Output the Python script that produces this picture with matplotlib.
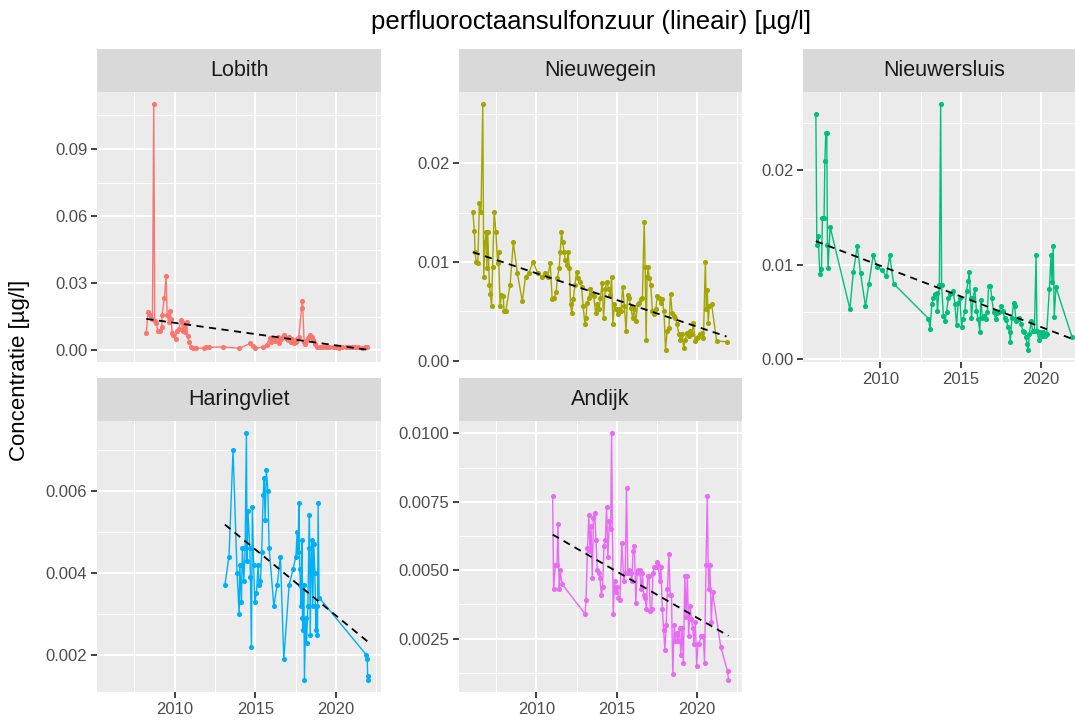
import numpy as np
import matplotlib
matplotlib.use("Agg")
import matplotlib.pyplot as plt
from matplotlib.ticker import FixedLocator, MultipleLocator

plt.rcParams['font.family'] = ['Liberation Sans', 'DejaVu Sans']

# ---------------- data (decimal year, concentration ug/l) ----------------
sites = ["Lobith", "Nieuwegein", "Nieuwersluis", "Haringvliet", "Andijk"]
colors = ["#F8766D", "#A3A500", "#00BF7D", "#00B0F6", "#E76BF3"]

lobith_points = [
    (2008.24, 0.0079), (2008.34, 0.0170), (2008.48, 0.0157), (2008.62, 0.0140),
    (2008.70, 0.1100), (2008.76, 0.0129), (2008.86, 0.0120), (2008.96, 0.0085),
    (2009.10, 0.0085), (2009.20, 0.0105), (2009.22, 0.0157), (2009.36, 0.0235),
    (2009.47, 0.0333), (2009.53, 0.0157), (2009.63, 0.0127), (2009.71, 0.0177),
    (2009.78, 0.0138), (2009.84, 0.0079), (2009.92, 0.0068), (2010.05, 0.0048),
    (2010.13, 0.0088), (2010.25, 0.0095), (2010.40, 0.0133), (2010.50, 0.0088),
    (2010.60, 0.0120), (2010.66, 0.0083), (2010.75, 0.0127), (2010.80, 0.0063),
    (2010.90, 0.0038), (2011.00, 0.0012), (2011.15, 0.0008), (2011.30, 0.0008),
    (2011.80, 0.0010), (2011.95, 0.0015), (2012.10, 0.0012), (2013.00, 0.0015),
    (2014.00, 0.0008), (2014.70, 0.0030), (2014.85, 0.0018), (2015.00, 0.0010),
    (2015.45, 0.0012), (2015.70, 0.0025), (2015.90, 0.0053), (2016.00, 0.0038),
    (2016.10, 0.0048), (2016.20, 0.0040), (2016.30, 0.0045), (2016.40, 0.0058),
    (2016.50, 0.0033), (2016.60, 0.0048), (2016.70, 0.0061), (2016.80, 0.0068),
    (2016.90, 0.0053), (2017.00, 0.0045), (2017.10, 0.0061), (2017.20, 0.0038),
    (2017.30, 0.0048), (2017.40, 0.0033), (2017.50, 0.0038), (2017.60, 0.0048),
    (2017.70, 0.0058), (2017.87, 0.0190), (2017.93, 0.0220), (2018.03, 0.0038),
    (2018.10, 0.0027), (2018.20, 0.0045), (2018.30, 0.0053), (2018.40, 0.0068),
    (2018.50, 0.0061), (2018.60, 0.0045), (2018.70, 0.0027), (2018.80, 0.0012),
    (2019.00, 0.0013), (2019.20, 0.0015), (2019.40, 0.0012), (2019.60, 0.0014),
    (2019.80, 0.0013), (2020.00, 0.0015), (2020.20, 0.0011), (2020.40, 0.0014),
    (2020.60, 0.0012), (2020.80, 0.0015), (2021.00, 0.0013), (2021.20, 0.0012),
    (2021.40, 0.0014), (2021.60, 0.0010), (2021.80, 0.0015), (2021.95, 0.0013),
]

nieuwegein_points = [
    (2006.04, 0.0151), (2006.14, 0.0131), (2006.18, 0.0110), (2006.25, 0.0100),
    (2006.35, 0.0099), (2006.45, 0.0160), (2006.55, 0.0151), (2006.66, 0.0260),
    (2006.72, 0.0085), (2006.80, 0.0120), (2006.86, 0.0130), (2006.92, 0.0094),
    (2006.97, 0.0130), (2007.07, 0.0077), (2007.13, 0.0068), (2007.21, 0.0055),
    (2007.27, 0.0095), (2007.37, 0.0151), (2007.48, 0.0130), (2007.58, 0.0099),
    (2007.64, 0.0110), (2007.74, 0.0055), (2007.82, 0.0067), (2007.93, 0.0065),
    (2007.99, 0.0050), (2008.09, 0.0050), (2008.36, 0.0077), (2008.56, 0.0120),
    (2008.81, 0.0089), (2009.12, 0.0060), (2009.32, 0.0085), (2009.53, 0.0089),
    (2009.79, 0.0100), (2010.08, 0.0089), (2010.35, 0.0085), (2010.55, 0.0089),
    (2010.70, 0.0085), (2010.86, 0.0099), (2010.98, 0.0062), (2011.10, 0.0063),
    (2011.23, 0.0070), (2011.31, 0.0084), (2011.42, 0.0094), (2011.48, 0.0110),
    (2011.56, 0.0130), (2011.64, 0.0120), (2011.72, 0.0110), (2011.80, 0.0102),
    (2011.89, 0.0097), (2011.97, 0.0110), (2012.05, 0.0094), (2012.13, 0.0057),
    (2012.19, 0.0048), (2012.30, 0.0062), (2012.40, 0.0077), (2012.50, 0.0090),
    (2012.60, 0.0084), (2012.71, 0.0080), (2012.81, 0.0075), (2012.91, 0.0055),
    (2013.02, 0.0037), (2013.08, 0.0043), (2013.16, 0.0058), (2013.26, 0.0063),
    (2013.36, 0.0073), (2013.49, 0.0068), (2013.57, 0.0065), (2013.69, 0.0048),
    (2013.79, 0.0057), (2013.90, 0.0052), (2013.98, 0.0063), (2014.10, 0.0079),
    (2014.18, 0.0043), (2014.29, 0.0073), (2014.39, 0.0080), (2014.49, 0.0073),
    (2014.60, 0.0067), (2014.68, 0.0085), (2014.76, 0.0037), (2014.86, 0.0057),
    (2014.96, 0.0052), (2015.07, 0.0047), (2015.17, 0.0052), (2015.27, 0.0050),
    (2015.37, 0.0075), (2015.48, 0.0055), (2015.58, 0.0030), (2015.68, 0.0067),
    (2015.78, 0.0063), (2015.89, 0.0053), (2015.99, 0.0043), (2016.09, 0.0052),
    (2016.19, 0.0040), (2016.30, 0.0057), (2016.40, 0.0058), (2016.50, 0.0062),
    (2016.60, 0.0063), (2016.71, 0.0141), (2016.77, 0.0095), (2016.83, 0.0021),
    (2016.89, 0.0085), (2016.95, 0.0095), (2017.02, 0.0084), (2017.12, 0.0077),
    (2017.22, 0.0050), (2017.32, 0.0047), (2017.43, 0.0052), (2017.53, 0.0065),
    (2017.63, 0.0063), (2017.74, 0.0058), (2017.84, 0.0062), (2017.94, 0.0050),
    (2018.04, 0.0011), (2018.14, 0.0030), (2018.25, 0.0033), (2018.35, 0.0068),
    (2018.45, 0.0048), (2018.55, 0.0045), (2018.66, 0.0043), (2018.76, 0.0037),
    (2018.86, 0.0027), (2018.96, 0.0021), (2019.07, 0.0027), (2019.17, 0.0013),
    (2019.27, 0.0021), (2019.37, 0.0028), (2019.48, 0.0025), (2019.58, 0.0030),
    (2019.68, 0.0027), (2019.78, 0.0038), (2019.89, 0.0020), (2019.99, 0.0023),
    (2020.09, 0.0024), (2020.19, 0.0027), (2020.30, 0.0028), (2020.40, 0.0023),
    (2020.52, 0.0100), (2020.58, 0.0052), (2020.64, 0.0072), (2020.70, 0.0038),
    (2020.76, 0.0055), (2020.91, 0.0057), (2021.22, 0.0020), (2021.84, 0.0019),
]

nieuwersluis_points = [
    (2005.98, 0.0260), (2006.04, 0.0121), (2006.12, 0.0130), (2006.23, 0.0090),
    (2006.33, 0.0096), (2006.39, 0.0150), (2006.49, 0.0150), (2006.54, 0.0210),
    (2006.60, 0.0240), (2006.66, 0.0240), (2006.70, 0.0121), (2006.74, 0.0097),
    (2006.87, 0.0140), (2008.10, 0.0053), (2008.31, 0.0092), (2008.56, 0.0120),
    (2008.76, 0.0091), (2009.07, 0.0056), (2009.28, 0.0080), (2009.55, 0.0110),
    (2009.79, 0.0098), (2010.10, 0.0094), (2010.37, 0.0088), (2010.58, 0.0110),
    (2010.82, 0.0080), (2012.99, 0.0043), (2013.09, 0.0032), (2013.20, 0.0058),
    (2013.30, 0.0065), (2013.40, 0.0069), (2013.50, 0.0070), (2013.55, 0.0051),
    (2013.67, 0.0079), (2013.75, 0.0270), (2013.81, 0.0079), (2013.92, 0.0046),
    (2014.02, 0.0040), (2014.12, 0.0050), (2014.23, 0.0065), (2014.33, 0.0069),
    (2014.43, 0.0070), (2014.54, 0.0072), (2014.64, 0.0058), (2014.74, 0.0036),
    (2014.85, 0.0060), (2014.95, 0.0065), (2015.05, 0.0034), (2015.15, 0.0043),
    (2015.26, 0.0051), (2015.36, 0.0072), (2015.46, 0.0083), (2015.53, 0.0092),
    (2015.61, 0.0065), (2015.67, 0.0044), (2015.77, 0.0065), (2015.88, 0.0074),
    (2015.98, 0.0051), (2016.08, 0.0043), (2016.19, 0.0029), (2016.25, 0.0063),
    (2016.35, 0.0044), (2016.45, 0.0046), (2016.56, 0.0043), (2016.66, 0.0050),
    (2016.74, 0.0078), (2016.85, 0.0078), (2016.93, 0.0065), (2017.05, 0.0050),
    (2017.18, 0.0043), (2017.26, 0.0049), (2017.38, 0.0050), (2017.53, 0.0056),
    (2017.63, 0.0051), (2017.73, 0.0044), (2017.84, 0.0041), (2017.94, 0.0034),
    (2018.04, 0.0029), (2018.08, 0.0018), (2018.19, 0.0044), (2018.29, 0.0060),
    (2018.35, 0.0056), (2018.45, 0.0040), (2018.56, 0.0043), (2018.66, 0.0044),
    (2018.76, 0.0037), (2018.87, 0.0030), (2018.97, 0.0029), (2019.07, 0.0023),
    (2019.13, 0.0016), (2019.20, 0.0010), (2019.28, 0.0027), (2019.38, 0.0040),
    (2019.48, 0.0030), (2019.59, 0.0030), (2019.69, 0.0110), (2019.75, 0.0030),
    (2019.86, 0.0020), (2019.94, 0.0029), (2020.04, 0.0025), (2020.14, 0.0029),
    (2020.25, 0.0025), (2020.35, 0.0027), (2020.52, 0.0074), (2020.62, 0.0110),
    (2020.68, 0.0082), (2020.76, 0.0120), (2020.82, 0.0045), (2020.93, 0.0076),
    (2021.92, 0.0024),
]

haringvliet_points = [
    (2013.11, 0.0037), (2013.37, 0.0044), (2013.62, 0.0070), (2013.87, 0.0040),
    (2014.00, 0.0030), (2014.04, 0.0042), (2014.14, 0.0033), (2014.20, 0.0046),
    (2014.29, 0.0038), (2014.37, 0.0046), (2014.45, 0.0074), (2014.49, 0.0043),
    (2014.55, 0.0055), (2014.66, 0.0046), (2014.70, 0.0039), (2014.76, 0.0022),
    (2014.82, 0.0056), (2014.90, 0.0042), (2014.97, 0.0033), (2015.07, 0.0035),
    (2015.18, 0.0042), (2015.24, 0.0037), (2015.32, 0.0038), (2015.40, 0.0045),
    (2015.49, 0.0059), (2015.55, 0.0063), (2015.61, 0.0053), (2015.69, 0.0065),
    (2015.78, 0.0060), (2015.86, 0.0046), (2016.15, 0.0032), (2016.36, 0.0037),
    (2016.56, 0.0044), (2016.77, 0.0019), (2017.10, 0.0037), (2017.35, 0.0041),
    (2017.52, 0.0044), (2017.60, 0.0050), (2017.66, 0.0045), (2017.70, 0.0057),
    (2017.76, 0.0041), (2017.80, 0.0037), (2017.85, 0.0032), (2017.89, 0.0048),
    (2017.93, 0.0029), (2017.97, 0.0026), (2018.01, 0.0037), (2018.05, 0.0014),
    (2018.12, 0.0029), (2018.18, 0.0023), (2018.26, 0.0032), (2018.32, 0.0046),
    (2018.36, 0.0054), (2018.41, 0.0025), (2018.47, 0.0043), (2018.51, 0.0048),
    (2018.57, 0.0032), (2018.63, 0.0047), (2018.70, 0.0040), (2018.76, 0.0026),
    (2018.80, 0.0032), (2018.86, 0.0025), (2018.90, 0.0057), (2018.96, 0.0034),
    (2021.90, 0.0020), (2021.95, 0.0019), (2021.97, 0.0015), (2022.00, 0.0014),
]

andijk_points = [
    (2011.01, 0.0077), (2011.07, 0.0043), (2011.18, 0.0052), (2011.28, 0.0052),
    (2011.34, 0.0067), (2011.42, 0.0043), (2011.48, 0.0050), (2011.59, 0.0045),
    (2013.03, 0.0034), (2013.09, 0.0039), (2013.18, 0.0058), (2013.26, 0.0070),
    (2013.34, 0.0057), (2013.40, 0.0066), (2013.48, 0.0047), (2013.55, 0.0069),
    (2013.63, 0.0071), (2013.71, 0.0061), (2013.79, 0.0050), (2013.88, 0.0049),
    (2013.96, 0.0047), (2014.04, 0.0041), (2014.12, 0.0044), (2014.21, 0.0059),
    (2014.29, 0.0061), (2014.37, 0.0073), (2014.45, 0.0055), (2014.54, 0.0068),
    (2014.62, 0.0065), (2014.68, 0.0100), (2014.78, 0.0034), (2014.87, 0.0046),
    (2014.95, 0.0042), (2015.03, 0.0044), (2015.11, 0.0040), (2015.20, 0.0039),
    (2015.32, 0.0060), (2015.44, 0.0046), (2015.53, 0.0049), (2015.61, 0.0080),
    (2015.69, 0.0049), (2015.77, 0.0050), (2015.86, 0.0049), (2015.94, 0.0046),
    (2016.02, 0.0057), (2016.10, 0.0059), (2016.19, 0.0038), (2016.27, 0.0049),
    (2016.35, 0.0050), (2016.43, 0.0050), (2016.52, 0.0043), (2016.60, 0.0049),
    (2016.68, 0.0041), (2016.76, 0.0040), (2016.85, 0.0036), (2016.93, 0.0048),
    (2017.01, 0.0048), (2017.09, 0.0035), (2017.18, 0.0036), (2017.26, 0.0049),
    (2017.34, 0.0051), (2017.42, 0.0051), (2017.51, 0.0053), (2017.59, 0.0052),
    (2017.67, 0.0046), (2017.75, 0.0051), (2017.84, 0.0036), (2017.92, 0.0028),
    (2018.00, 0.0021), (2018.08, 0.0030), (2018.16, 0.0043), (2018.25, 0.0056),
    (2018.33, 0.0041), (2018.41, 0.0041), (2018.49, 0.0012), (2018.58, 0.0030),
    (2018.66, 0.0024), (2018.74, 0.0027), (2018.82, 0.0024), (2018.91, 0.0029),
    (2018.99, 0.0019), (2019.07, 0.0029), (2019.15, 0.0016), (2019.24, 0.0048),
    (2019.32, 0.0033), (2019.40, 0.0048), (2019.48, 0.0026), (2019.57, 0.0037),
    (2019.65, 0.0032), (2019.73, 0.0029), (2019.81, 0.0023), (2019.90, 0.0031),
    (2019.98, 0.0015), (2020.06, 0.0023), (2020.14, 0.0023), (2020.23, 0.0026),
    (2020.31, 0.0026), (2020.39, 0.0026), (2020.47, 0.0016), (2020.56, 0.0052),
    (2020.64, 0.0077), (2020.72, 0.0043), (2020.80, 0.0052), (2020.89, 0.0031),
    (2020.97, 0.0042), (2021.48, 0.0022), (2021.90, 0.0013), (2021.96, 0.0010),
]

site_points = [lobith_points, nieuwegein_points, nieuwersluis_points,
               haringvliet_points, andijk_points]

# trend lines: start/end year and value
trend_start_year = [2008.24, 2006.04, 2005.98, 2013.11, 2011.01]
trend_start_val = [0.0140, 0.0110, 0.0125, 0.00518, 0.0063]
trend_end_year = [2021.95, 2021.84, 2021.92, 2022.00, 2021.96]
trend_end_val = [0.0002, 0.00244, 0.00216, 0.00232, 0.0026]

# y tick values and labels per panel
y_ticks = [[0.00, 0.03, 0.06, 0.09],
           [0.00, 0.01, 0.02],
           [0.00, 0.01, 0.02],
           [0.002, 0.004, 0.006],
           [0.0025, 0.0050, 0.0075, 0.0100]]
y_tick_labels = [["0.00", "0.03", "0.06", "0.09"],
                 ["0.00", "0.01", "0.02"],
                 ["0.00", "0.01", "0.02"],
                 ["0.002", "0.004", "0.006"],
                 ["0.0025", "0.0050", "0.0075", "0.0100"]]
x_ticks = [2010, 2015, 2020]
x_tick_labels = ["2010", "2015", "2020"]

title = "perfluoroctaansulfonzuur (lineair) [µg/l]"
ylabel = "Concentratie [µg/l]"

# ---------------- layout (pixels) ----------------
W, H = 1075, 720
fig = plt.figure(figsize=(W / 100, H / 100), dpi=100)
fig.patch.set_facecolor("white")

col_x = [(97, 381), (459, 742), (803, 1086)]
row_y = [(49, 92, 362), (378, 421, 692)]  # strip top, panel top, panel bottom
slots = [(0, 0), (0, 1), (0, 2), (1, 0), (1, 1)]
show_x = [False, False, True, True, True]

# shared x range
all_x = np.concatenate([np.array(p)[:, 0] for p in site_points])
xlo, xhi = all_x.min(), all_x.max()
xpad = 0.05 * (xhi - xlo)

def fig_rect(x0, x1, y0, y1):
    return [x0 / W, 1 - y1 / H, (x1 - x0) / W, (y1 - y0) / H]

for i, site in enumerate(sites):
    r, c = slots[i]
    x0, x1 = col_x[c]
    st, pt, pb = row_y[r]
    ax = fig.add_axes(fig_rect(x0, x1, pt, pb))
    sax = fig.add_axes(fig_rect(x0, x1, st, pt))

    pts = np.array(site_points[i])
    xs, ys = pts[:, 0], pts[:, 1]
    ax.set_facecolor("#EBEBEB")
    ax.plot(xs, ys, color=colors[i], lw=1.0, zorder=3)
    ax.plot(xs, ys, 'o', color=colors[i], ms=3.7, mew=0, zorder=4)
    ax.plot([trend_start_year[i], trend_end_year[i]],
            [trend_start_val[i], trend_end_val[i]],
            color="black", lw=1.3, ls=(0, (4, 3)), zorder=5)

    yall = np.concatenate([ys, [trend_start_val[i], trend_end_val[i]]])
    ylo, yhi = yall.min(), yall.max()
    ypad = 0.05 * (yhi - ylo)
    ax.set_ylim(ylo - ypad, yhi + ypad)
    ax.set_xlim(xlo - xpad, xhi + xpad)

    yt = y_ticks[i]
    step = yt[1] - yt[0]
    ax.yaxis.set_major_locator(FixedLocator(yt))
    ax.set_yticklabels(y_tick_labels[i])
    ax.yaxis.set_minor_locator(MultipleLocator(step / 2))
    ax.xaxis.set_major_locator(FixedLocator(x_ticks))
    ax.xaxis.set_minor_locator(FixedLocator([2007.5, 2012.5, 2017.5, 2022.5]))
    if show_x[i]:
        ax.set_xticklabels(x_tick_labels)
        ax.tick_params(axis="x", which="major", length=4, width=1.3,
                       color="#333333", labelsize=12, labelcolor="#4D4D4D", pad=3)
    else:
        ax.tick_params(axis="x", which="major", length=0, labelbottom=False)
    ax.tick_params(axis="y", which="major", length=4, width=1.3,
                   color="#333333", labelsize=12, labelcolor="#4D4D4D", pad=3)
    ax.tick_params(which="minor", length=0)
    ax.grid(which="major", color="white", lw=1.5, zorder=0)
    ax.grid(which="minor", color="white", lw=0.75, zorder=0)
    ax.set_axisbelow(True)
    for s in ax.spines.values():
        s.set_visible(False)

    sax.set_facecolor("#D9D9D9")
    sax.set_xticks([])
    sax.set_yticks([])
    for s in sax.spines.values():
        s.set_visible(False)
    sax.text(0.5, 0.5, site, ha="center", va="center", fontsize=15.5,
             color="#1A1A1A", transform=sax.transAxes)

fig.text(591 / W, 1 - 22 / H, title, ha="center", va="center",
         fontsize=18.5, color="black")
fig.text(20 / W, 1 - 370 / H, ylabel, ha="center", va="center",
         rotation=90, fontsize=16, color="black")

fig.savefig("out.png", dpi=100, facecolor="white")
